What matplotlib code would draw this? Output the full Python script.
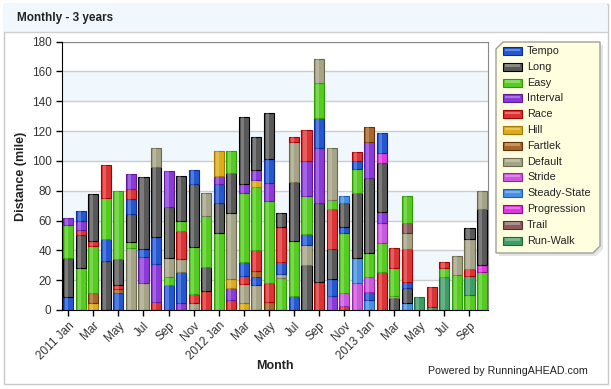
import matplotlib.pyplot as plt
from matplotlib.patches import Rectangle, Polygon

plt.rcParams['font.family'] = ['Liberation Sans', 'DejaVu Sans']

months = ["2011 Jan", "Feb", "Mar", "Apr", "May", "Jun", "Jul", "Aug", "Sep", "Oct", "Nov", "Dec",
          "2012 Jan", "Feb", "Mar", "Apr", "May", "Jun", "Jul", "Aug", "Sep", "Oct", "Nov", "Dec",
          "2013 Jan", "Feb", "Mar", "Apr", "May", "Jun", "Jul", "Aug", "Sep", "Oct"]

run_types = ["Tempo", "Long", "Easy", "Interval", "Race", "Hill", "Fartlek", "Default",
             "Stride", "Steady-State", "Progression", "Trail", "Run-Walk"]
fills = ["#2458d0", "#585858", "#56cc22", "#8a3ad8", "#dc3434", "#ddac1c", "#a8662a", "#a6a486",
         "#cc58dc", "#4a90e2", "#dc3cdc", "#8c5c5c", "#3e9c64"]
edges = ["#0c2c9c", "#000000", "#2f9a00", "#5a1a9c", "#a80000", "#a87800", "#663300", "#6c6a4c",
         "#9a22aa", "#1a60b0", "#a000a0", "#553030", "#1c6a3a"]

# stacked segments per month, bottom to top
seg_types = [
    ["Tempo", "Long", "Easy", "Interval"],
    ["Easy", "Long", "Race", "Interval", "Tempo"],
    ["Hill", "Fartlek", "Easy", "Race", "Long"],
    ["Long", "Tempo", "Easy", "Race"],
    ["Tempo", "Fartlek", "Race", "Long", "Easy"],
    ["Default", "Easy", "Long", "Tempo", "Race", "Interval"],
    ["Default", "Interval", "Tempo", "Long"],
    ["Race", "Interval", "Tempo", "Long", "Default"],
    ["Tempo", "Easy", "Default", "Long", "Interval"],
    ["Interval", "Tempo", "Default", "Race", "Easy", "Long"],
    ["Default", "Race", "Easy", "Long", "Tempo"],
    ["Race", "Long", "Easy", "Default"],
    ["Easy", "Long", "Tempo", "Interval", "Hill"],
    ["Race", "Interval", "Hill", "Default", "Long", "Easy"],
    ["Hill", "Default", "Race", "Tempo", "Easy", "Interval", "Long"],
    ["Default", "Tempo", "Fartlek", "Race", "Easy", "Hill", "Interval", "Long"],
    ["Fartlek", "Race", "Easy", "Interval", "Tempo", "Long"],
    ["Easy", "Default", "Tempo", "Race", "Long"],
    ["Tempo", "Easy", "Long", "Default", "Race"],
    ["Long", "Default", "Tempo", "Easy", "Interval", "Race"],
    ["Race", "Long", "Interval", "Tempo", "Easy", "Default"],
    ["Interval", "Tempo", "Long", "Race", "Easy", "Default"],
    ["Race", "Stride", "Easy", "Tempo", "Long", "Steady-State"],
    ["Stride", "Steady-State", "Long", "Easy", "Tempo", "Race"],
    ["Steady-State", "Tempo", "Stride", "Easy", "Long", "Interval", "Fartlek"],
    ["Race", "Easy", "Stride", "Interval", "Long", "Progression", "Tempo"],
    ["Long", "Default", "Easy", "Race"],
    ["Steady-State", "Long", "Tempo", "Race", "Default", "Trail", "Easy"],
    ["Run-Walk"],
    ["Run-Walk", "Race"],
    ["Run-Walk", "Easy", "Race"],
    ["Easy", "Default"],
    ["Easy", "Run-Walk", "Race", "Default", "Long"],
    ["Easy", "Progression", "Long", "Default"],
]
seg_miles = [
    [8.5, 26.5, 22.0, 5.0],
    [28.4, 21.9, 3.4, 6.3, 6.4],
    [4.9, 6.3, 31.7, 3.4, 31.3],
    [33.1, 14.3, 28.0, 21.6],
    [11.2, 2.6, 3.2, 17.0, 45.8],
    [41.4, 4.0, 18.8, 10.5, 6.3, 10.2],
    [17.9, 17.9, 4.9, 48.3],
    [5.6, 25.0, 18.1, 47.0, 13.0],
    [16.8, 5.6, 12.3, 34.6, 24.2],
    [5.0, 20.2, 8.7, 19.1, 6.7, 30.2],
    [4.5, 6.0, 31.5, 42.3, 9.6],
    [13.0, 16.1, 34.2, 15.0],
    [51.4, 20.2, 12.7, 5.8, 16.3],
    [6.9, 8.1, 5.5, 44.8, 26.4, 14.7],
    [4.9, 12.3, 5.8, 9.5, 46.2, 5.6, 44.9],
    [16.9, 5.0, 4.4, 14.0, 42.4, 4.5, 6.7, 22.4],
    [5.6, 12.7, 55.0, 11.7, 16.0, 30.9],
    [21.2, 2.7, 8.5, 23.1, 9.3],
    [9.4, 37.1, 39.1, 26.7, 3.5],
    [30.2, 13.4, 7.2, 25.9, 23.5, 20.5],
    [18.6, 53.4, 36.5, 20.5, 23.0, 16.2],
    [9.6, 11.0, 20.3, 26.6, 6.3, 34.7],
    [2.9, 8.3, 40.6, 4.1, 15.7, 4.9],
    [17.8, 16.8, 43.7, 16.1, 5.6, 6.2],
    [6.7, 5.6, 10.0, 16.1, 50.4, 23.5, 10.7],
    [25.7, 19.4, 13.0, 7.9, 32.8, 6.3, 13.4],
    [7.8, 1.8, 18.3, 13.4],
    [4.5, 10.0, 4.4, 21.7, 10.7, 6.8, 18.4],
    [8.5],
    [1.8, 13.4],
    [22.3, 6.0, 3.6],
    [23.4, 12.7],
    [10.0, 12.8, 4.8, 19.9, 7.3],
    [25.6, 4.5, 37.4, 12.3],
]

fill = dict(zip(run_types, fills))
edge = dict(zip(run_types, edges))

W, H = 611, 389
fig = plt.figure(figsize=(W / 100, H / 100), dpi=100)

# background layer in pixel coordinates
bg = fig.add_axes([0, 0, 1, 1], zorder=0)
bg.set_xlim(0, W)
bg.set_ylim(H, 0)
bg.axis('off')
bg.add_patch(Rectangle((3.5, 3.5), 604, 380, facecolor='white', edgecolor='#c8c8c8', lw=1))
bg.add_patch(Rectangle((4, 4), 603, 28, facecolor='#f0f8fe', edgecolor='none'))
bg.plot([4, 607], [32, 32], color='#d0d0d0', lw=1)
bg.text(17, 18, "Monthly - 3 years", fontsize=8.5, fontweight='bold', color='#222', va='center')
bg.text(21, 176, "Distance (mile)", fontsize=9, fontweight='bold', rotation=90,
        ha='center', va='center', color='#222')
bg.text(275, 366, "Month", fontsize=9, fontweight='bold', ha='center', va='center', color='#222')
bg.text(588, 371, "Powered by RunningAHEAD.com", fontsize=7.7, ha='right', va='center', color='#222')

# legend box with cut corners
x0, x1, y0, y1, c = 496, 600, 42, 253, 7
pts = [(x0, y0 + c), (x0 + c, y0), (x1, y0), (x1, y1 - c), (x1 - c, y1), (x0, y1)]
bg.add_patch(Polygon([(x + 3, y + 3) for x, y in pts], closed=True, facecolor='#e4e4e4', edgecolor='none'))
bg.add_patch(Polygon(pts, closed=True, facecolor='#ffffe0', edgecolor='#a0a0a0', lw=1))
for k, t in enumerate(run_types):
    yy = 51 + k * 15.8
    bg.add_patch(Rectangle((503, yy - 4), 19, 8, facecolor=fill[t], edgecolor=edge[t], lw=0.8))
    bg.add_patch(Rectangle((505, yy - 2.5), 15, 2.5, facecolor='white', alpha=0.3, edgecolor='none'))
    bg.text(527, yy, t, fontsize=7.8, va='center', color='#222')

# main chart
ax = fig.add_axes([62 / W, 79 / H, 426.3 / W, 268.5 / H], zorder=1)
ax.set_facecolor('none')
for lo in range(20, 180, 40):
    ax.axhspan(lo, lo + 20, color='#f0f8fe', lw=0, zorder=0)
for yv in range(20, 181, 20):
    ax.axhline(yv, color='#cccccc', lw=1, zorder=1)

for i in range(len(months)):
    bottom = 0
    for t, v in zip(seg_types[i], seg_miles[i]):
        ax.bar(i, v, bottom=bottom, width=0.8, color=fill[t], edgecolor=edge[t], lw=0.8, zorder=3)
        ax.bar(i - 0.12, v, bottom=bottom, width=0.26, color='white', alpha=0.22, lw=0, zorder=4)
        bottom += v

ax.set_xlim(-0.5, len(months) - 0.5)
ax.set_ylim(0, 180)
ax.set_yticks(range(0, 181, 20))
ax.set_xticks(range(0, len(months), 2))
ax.set_xticklabels(months[::2], rotation=45, ha='right', rotation_mode='anchor')
ax.tick_params(axis='both', labelsize=8.5, labelcolor='#333', length=4, width=1)
ax.tick_params(axis='x', pad=3)
for s in ['top', 'right']:
    ax.spines[s].set_color('#888888')
for s in ['left', 'bottom']:
    ax.spines[s].set_color('black')
    ax.spines[s].set_zorder(5)

fig.savefig('out.png', dpi=100)
